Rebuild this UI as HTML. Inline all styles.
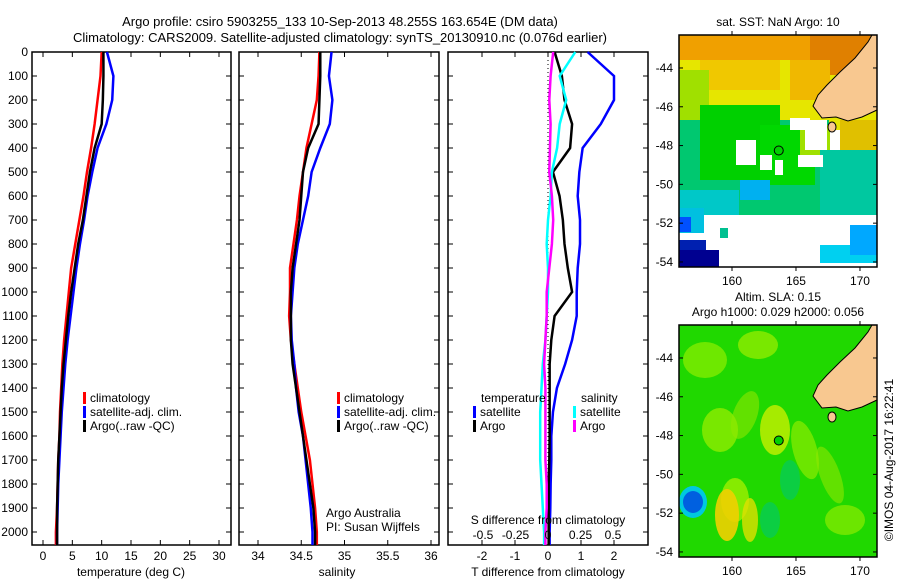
<!DOCTYPE html>
<html><head><meta charset="utf-8"><style>
html,body{margin:0;padding:0;background:#fff;width:900px;height:580px;overflow:hidden}
svg{display:block;font-family:"Liberation Sans",sans-serif}
text{font-size:12px;fill:#000}
</style></head><body>
<svg id="fig" width="900" height="580" viewBox="0 0 900 580" xmlns="http://www.w3.org/2000/svg">
<text x="340" y="26" text-anchor="middle" style="font-size:13px">Argo profile: csiro 5903255_133 10-Sep-2013 48.255S 163.654E (DM data)</text>
<text x="340" y="42" text-anchor="middle" style="font-size:13px">Climatology: CARS2009. Satellite-adjusted climatology: synTS_20130910.nc (0.076d earlier)</text>
<g id="p1"></g>
<g id="p2"></g>
<g id="p3"></g>
<g id="m1"></g>
<g id="m2"></g>
<text x="778" y="26" text-anchor="middle">sat. SST: NaN Argo: 10</text>
<text x="778" y="301" text-anchor="middle">Altim. SLA: 0.15</text>
<text x="778" y="316" text-anchor="middle">Argo h1000: 0.029 h2000: 0.056</text>
<text transform="translate(893,460) rotate(-90)" text-anchor="middle">©IMOS 04-Aug-2017 16:22:41</text>
</svg>
<script>
const depths=[0,100,200,300,400,500,600,700,800,900,1000,1100,1200,1300,1400,1500,1600,1700,1800,1900,2000];
const tClim=[10,9.8,9.3,8.8,8.2,7.5,6.9,6.2,5.5,4.8,4.4,4.0,3.6,3.3,3.1,2.9,2.8,2.6,2.5,2.4,2.2];
const tArgo=[10.3,10.3,10.2,10.0,8.8,8.0,7.4,6.8,6.0,5.4,4.8,4.3,3.9,3.5,3.2,3.0,2.8,2.6,2.5,2.4,2.4];
const tSat=[10.9,12.0,11.8,10.8,9.3,8.4,7.6,7.0,6.3,5.7,5.2,4.7,4.2,3.8,3.5,3.2,3.0,2.8,2.6,2.5,2.4];
const sClim=[34.71,34.70,34.68,34.62,34.56,34.52,34.48,34.45,34.41,34.37,34.37,34.36,34.38,34.42,34.46,34.50,34.55,34.60,34.63,34.66,34.68];
const sArgo=[34.72,34.72,34.71,34.70,34.58,34.52,34.50,34.48,34.44,34.40,34.38,34.38,34.38,34.40,34.44,34.48,34.52,34.56,34.60,34.64,34.66];
const sSat=[34.85,34.82,34.86,34.83,34.72,34.62,34.58,34.52,34.46,34.42,34.40,34.38,34.39,34.42,34.44,34.47,34.52,34.55,34.58,34.61,34.63];
const dTSat=[1.2,2.0,2.0,1.6,1.05,0.95,0.9,0.97,0.97,0.9,0.87,0.87,0.73,0.52,0.27,0.15,0.1,0.1,0.08,0.07,0.05];
const dTArgo=[0.2,0.42,0.5,0.73,0.67,0.15,0.35,0.45,0.5,0.6,0.73,0.2,0.1,0.05,0.05,0.05,0.05,0.04,0.02,0.02,0.02];
const dSSat=[0.21,0.09,0.14,0.09,0.07,0.03,0.02,0.0,-0.01,0.0,0.0,-0.01,-0.02,-0.04,-0.05,-0.06,-0.06,-0.06,-0.05,-0.04,-0.03];
const dSArgo=[0.04,0.02,0.01,0.02,0.015,0.01,0.03,0.04,0.03,0.01,-0.01,-0.01,-0.02,-0.03,-0.02,-0.02,-0.02,-0.02,-0.01,-0.01,-0.02];
const depthTicks=[0,100,200,300,400,500,600,700,800,900,1000,1100,1200,1300,1400,1500,1600,1700,1800,1900,2000];
const tTicks=[0,5,10,15,20,25,30];
const sTicks=[34,34.5,35,35.5,36];
const dTTicks=[-2,-1,0,1,2];
const dSTicks=[-0.5,-0.25,0,0.25,0.5];
const latTicks=[-44,-46,-48,-50,-52,-54];
const lonTicks=[160,165,170];
const argoLon=163.654, argoLat=-48.255;

const NS='http://www.w3.org/2000/svg';
function el(parent,tag,attrs,txt){const e=document.createElementNS(NS,tag);for(const k in attrs)e.setAttribute(k,attrs[k]);if(txt!==undefined)e.textContent=txt;parent.appendChild(e);return e;}
const Y0=52,Y1=545;
const yD=d=>Y0+d*0.24;
function lin(d0,d1,r0,r1){return v=>r0+(v-d0)*(r1-r0)/(d1-d0);}

function frame(g,x0,x1,ticks,sx,labels,showY){
  const r=el(g,'rect',{x:x0,y:Y0,width:x1-x0,height:Y1-Y0,fill:'none',stroke:'#000','stroke-width':1.5});
  
  
  depthTicks.forEach(d=>{
    const y=yD(d);
    el(g,'line',{x1:x0,x2:x0+5,y1:y,y2:y,stroke:'#000'});
    el(g,'line',{x1:x1-5,x2:x1,y1:y,y2:y,stroke:'#000'});
    if(showY){const t=el(g,'text',{x:x0-4,y:y+4,'text-anchor':'end'},String(d));
      
      }
  });
  ticks.forEach(v=>{
    const x=sx(v);
    el(g,'line',{x1:x,x2:x,y1:Y0,y2:Y0+5,stroke:'#000'});
    el(g,'line',{x1:x,x2:x,y1:Y1-5,y2:Y1,stroke:'#000'});
    if(labels){const t=el(g,'text',{x:x,y:560,'text-anchor':'middle'},labels(v));
      
      }
  });
}
function profile(g,vals,sx,color,name,w){
  let pts=[];
  for(let i=0;i<vals.length;i++){pts.push(sx(vals[i])+','+yD(depths[i]));}
  pts.push(sx(vals[vals.length-1])+','+Y1);
  const p=el(g,'polyline',{points:pts.join(' '),fill:'none',stroke:color,'stroke-width':w||2.5});
  
  
}
function legend(g,x,y,color,label){
  el(g,'rect',{x:x,y:y-10,width:3,height:12,fill:color});
  const t=el(g,'text',{x:x+7,y:y},label);
  
  
}
const p1=document.getElementById('p1');
const sxT=lin(0,30,43,219);
frame(p1,32,231,tTicks,sxT,v=>String(v),true);
profile(p1,tClim,sxT,'#f00','temp-climatology-line');
profile(p1,tSat,sxT,'#00f','temp-satellite-line');
profile(p1,tArgo,sxT,'#000','temp-argo-line');
legend(p1,83,402,'#f00','climatology');legend(p1,83,416,'#00f','satellite-adj. clim.');legend(p1,83,430,'#000','Argo(..raw -QC)');
let t=el(p1,'text',{x:131,y:576,'text-anchor':'middle'},'temperature (deg C)');

const p2=document.getElementById('p2');
const sxS=lin(34,36,258,431);
frame(p2,239,439,sTicks,sxS,v=>String(v),false);
profile(p2,sClim,sxS,'#f00','sal-climatology-line');
profile(p2,sSat,sxS,'#00f','sal-satellite-line');
profile(p2,sArgo,sxS,'#000','sal-argo-line');
legend(p2,337,402,'#f00','climatology');legend(p2,337,416,'#00f','satellite-adj. clim.');legend(p2,337,430,'#000','Argo(..raw -QC)');
t=el(p2,'text',{x:326,y:517},'Argo Australia');
t=el(p2,'text',{x:326,y:531},'PI: Susan Wijffels');
t=el(p2,'text',{x:337,y:576,'text-anchor':'middle'},'salinity');
const p3=document.getElementById('p3');
const sxDT=lin(0,2,548,614);
const sxDS=lin(0,0.5,548,613);
frame(p3,448,648,dTTicks,sxDT,v=>String(v),false);
el(p3,'line',{x1:548,x2:548,y1:Y0,y2:Y1,stroke:'#000','stroke-dasharray':'1,3'});
profile(p3,dTSat,sxDT,'#00f','tdiff-satellite-line');
profile(p3,dTArgo,sxDT,'#000','tdiff-argo-line');
profile(p3,dSSat,sxDS,'#0ff','sdiff-satellite-line');
profile(p3,dSArgo,sxDS,'#f0f','sdiff-argo-line');
t=el(p3,'text',{x:481,y:402},'temperature');
t=el(p3,'text',{x:581,y:402},'salinity');
legend(p3,473,416,'#00f','satellite');legend(p3,473,430,'#000','Argo');
legend(p3,573,416,'#0ff','satellite');legend(p3,573,430,'#f0f','Argo');
t=el(p3,'text',{x:548,y:524,'text-anchor':'middle'},'S difference from climatology');
dSTicks.forEach(v=>{const tt=el(p3,'text',{x:sxDS(v),y:539,'text-anchor':'middle'},String(v));
  });
t=el(p3,'text',{x:548,y:576,'text-anchor':'middle'},'T difference from climatology');

const MX0=679,MX1=877;
const sLon=lin(155.86,171.33,MX0,MX1);
function landPts(oy){
  const p=[[877,35],[877,110],[862,117],[848,121],[836,117],[822,118],[813,106],[818,95],[827,85],[840,72],[855,58],[868,42],[872,35]];
  return p.map(q=>q[0]+','+(q[1]+oy)).join(' ');
}
function drawMap(g,top,isSst){
  const sLat=lin(-42.3,-54.26,top,top+232);
  const clip=el(g,'clipPath',{id:'c'+top});el(clip,'rect',{x:MX0,y:top,width:MX1-MX0,height:232});
  const inner=el(g,'g',{'clip-path':'url(#c'+top+')'});
  const R=(x,y,w,h,c)=>el(inner,'rect',{x:x,y:y+top-35,width:w,height:h,fill:c});
  const E=(cx,cy,rx,ry,c,rot,op)=>el(inner,'ellipse',{cx:cx,cy:cy+top-35,rx:rx,ry:ry,fill:c,opacity:op||1,transform:'rotate('+(rot||0)+' '+cx+' '+(cy+top-35)+')'});
  if(isSst){
    R(679,35,198,232,'#fff');
    R(679,35,198,95,'#e6e600');
    R(679,35,198,25,'#f0a000');R(810,35,67,40,'#e08000');
    R(700,60,80,30,'#f0c800');R(790,60,40,40,'#f0b800');
    R(679,70,30,60,'#a0e000');
    R(679,120,150,95,'#00c870');
    R(700,105,80,75,'#00d000');R(760,125,55,60,'#00d800');
    R(800,125,30,35,'#a0e000');
    R(820,150,57,85,'#00c8a0');R(840,120,37,30,'#e0c000');
    R(679,190,60,25,'#00c8c8');R(740,180,30,20,'#00b0f0');
    R(736,140,20,25,'#fff');R(760,155,12,15,'#fff');R(798,155,25,12,'#fff');
    R(790,118,20,12,'#fff');R(805,120,22,30,'#fff');R(775,160,8,15,'#fff');
    R(679,215,198,52,'#fff');
    R(679,208,25,25,'#00c0e0');R(679,217,12,15,'#0050ff');
    R(679,240,27,27,'#0020b0');R(679,250,40,17,'#000090');
    R(720,228,8,10,'#00c090');R(820,245,57,18,'#00d0f0');R(850,225,27,30,'#00a8ff');
  } else {
    R(679,35,198,232,'#20d800');
    E(705,70,22,18,'#90f000',0,0.7);E(720,140,18,22,'#a0f000',0,0.7);E(758,55,20,14,'#a0f000',0,0.7);
    E(775,140,15,25,'#c8f000',0,0.8);E(805,160,12,30,'#a0f000',-15,0.6);E(830,185,10,30,'#90e800',-20,0.6);
    E(735,210,14,22,'#a0f000',0,0.8);E(727,225,12,26,'#f0d000',0,0.9);E(750,230,8,22,'#e0e000',0,0.8);
    E(745,125,12,25,'#90e800',20,0.6);E(845,230,20,15,'#a0f000',0,0.6);
    E(693,212,14,16,'#00c8e0',0);E(693,212,10,11,'#0060e0',0);
    E(790,190,10,20,'#00c870',0,0.6);E(770,230,10,18,'#00c870',0,0.6);
  }
  const land=el(g,'polygon',{points:landPts(top-35),fill:'#f8c890',stroke:'#000','stroke-width':1});
  
  
  el(g,'ellipse',{cx:832,cy:top+92,rx:4,ry:5,fill:'#f8c890',stroke:'#000'});
  const mk=el(g,'circle',{cx:sLon(argoLon),cy:sLat(argoLat),r:4.5,fill:'#00d000',stroke:'#000','stroke-width':1});
  
  
  el(g,'rect',{x:MX0,y:top,width:MX1-MX0,height:232,fill:'none',stroke:'#000','stroke-width':1.5});
  latTicks.forEach(v=>{const y=sLat(v);
    el(g,'line',{x1:MX0,x2:MX0+4,y1:y,y2:y,stroke:'#000'});el(g,'line',{x1:MX1-4,x2:MX1,y1:y,y2:y,stroke:'#000'});
    const tt=el(g,'text',{x:673,y:y+4,'text-anchor':'end'},String(v));
    });
  lonTicks.forEach(v=>{const x=sLon(v);
    el(g,'line',{x1:x,x2:x,y1:top-4,y2:top,stroke:'#000'});el(g,'line',{x1:x,x2:x,y1:top+232,y2:top+236,stroke:'#000'});
    const tt=el(g,'text',{x:x,y:top+250,'text-anchor':'middle'},String(v));
    });
}
drawMap(document.getElementById('m1'),35,true);
drawMap(document.getElementById('m2'),325,false);
</script>
</body></html>
